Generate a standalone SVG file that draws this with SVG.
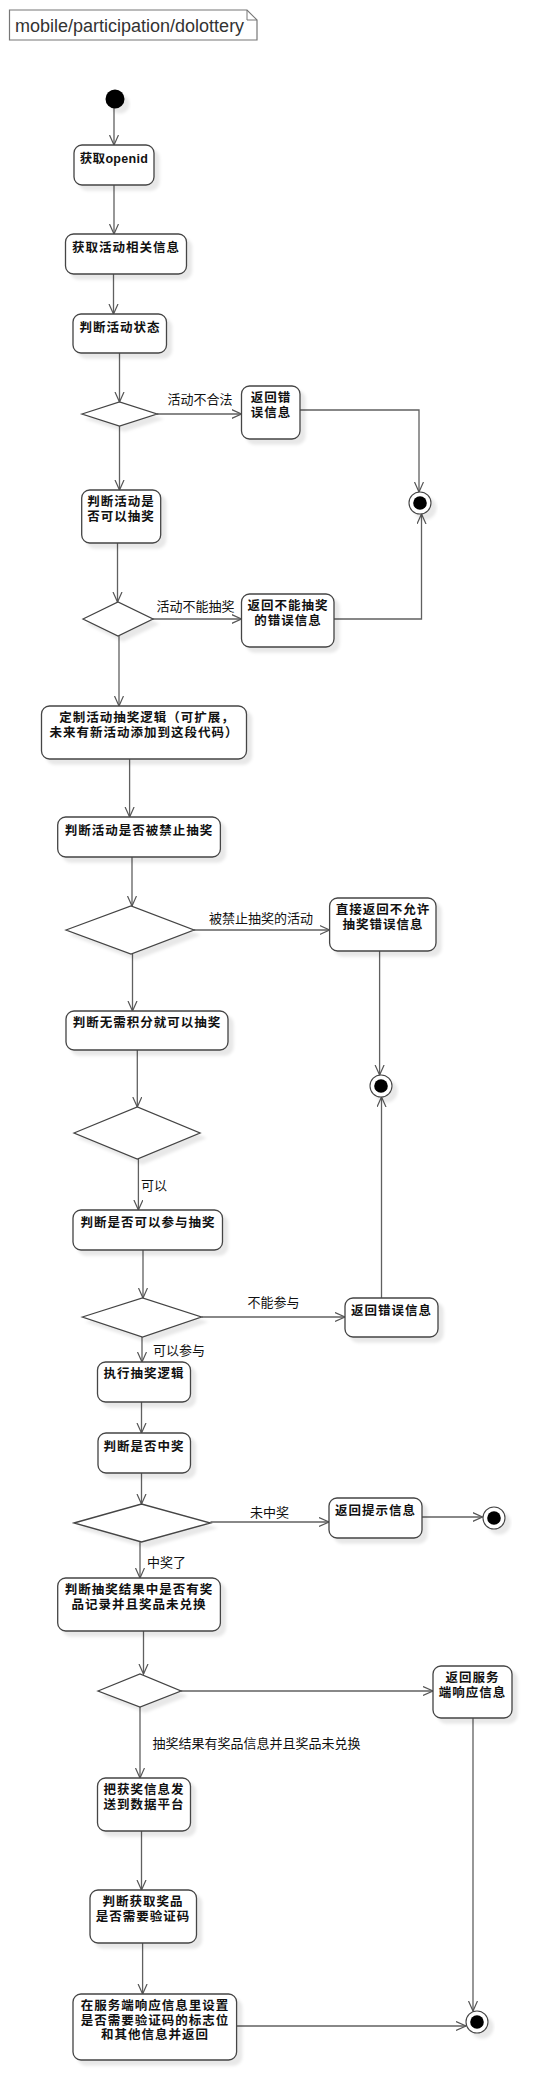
<svg xmlns="http://www.w3.org/2000/svg" width="553" height="2100" viewBox="0 0 553 2100">
<defs>
<filter id="sh" x="-20%" y="-20%" width="150%" height="160%">
<feDropShadow dx="5" dy="5" stdDeviation="1.8" flood-color="#000" flood-opacity="0.09"/>
</filter>
<marker id="ar" markerWidth="12" markerHeight="12" refX="10" refY="5" orient="auto" markerUnits="userSpaceOnUse">
<path d="M0,0.5 L10,5 L0,9.5" fill="none" stroke="#555" stroke-width="1.2"/>
</marker>
<style>
.bx{fill:#fff;stroke:#444;stroke-width:1.3;filter:url(#sh)}
.dm{fill:#fff;stroke:#444;stroke-width:1.3;filter:url(#sh)}
.t{font-family:"Liberation Sans","Noto Sans CJK SC",sans-serif;font-size:12.5px;font-weight:bold;fill:#111;text-anchor:middle;letter-spacing:1px}
.lb{font-family:"Noto Sans CJK SC","Noto Sans",sans-serif;font-size:13px;fill:#111}
.c{fill:none;stroke:#606060;stroke-width:1.3;marker-end:url(#ar)}
.st{fill:#000;filter:url(#sh)}
.eo{fill:#fff;stroke:#444;stroke-width:1.1;filter:url(#sh)}
.ei{fill:#000}
</style>
</defs>
<rect width="553" height="2100" fill="#fff"/>

<g id="note">
<path d="M9.5,10 H247 L257,20 V40 H9.5 Z" fill="#fff" stroke="#777" stroke-width="1.2"/>
<path d="M247,10 V20 H257" fill="none" stroke="#777" stroke-width="1"/>
<text x="15" y="32" font-family="Liberation Sans, Arial, sans-serif" font-size="18" fill="#333">mobile/participation/dolottery</text>
</g>

<g id="connectors">
<path class="c" d="M114,108 V145"/>
<path class="c" d="M114,185 V234"/>
<path class="c" d="M113.5,274 V314"/>
<path class="c" d="M119.5,353 V402"/>
<path class="c" d="M157,414 H241.5"/>
<path class="c" d="M300,410 H419 V492"/>
<path class="c" d="M119.5,426 V490"/>
<path class="c" d="M117.5,543 V602"/>
<path class="c" d="M153,619 H241.5"/>
<path class="c" d="M334,619 H421.5 V514"/>
<path class="c" d="M119,636 V706"/>
<path class="c" d="M129.6,759 V817"/>
<path class="c" d="M132,857 V906"/>
<path class="c" d="M194,930 H329.6"/>
<path class="c" d="M379.6,951 V1075"/>
<path class="c" d="M132.5,954 V1011"/>
<path class="c" d="M137.3,1050 V1107"/>
<path class="c" d="M138.4,1159 V1210"/>
<path class="c" d="M143,1250 V1298"/>
<path class="c" d="M201.4,1317 H345"/>
<path class="c" d="M381.5,1298 V1097"/>
<path class="c" d="M142,1337 V1362"/>
<path class="c" d="M141.5,1402 V1433"/>
<path class="c" d="M141.5,1473 V1504"/>
<path class="c" d="M210.5,1522 H329"/>
<path class="c" d="M422,1517 H482.5"/>
<path class="c" d="M140,1542 V1578"/>
<path class="c" d="M143.5,1631 V1674"/>
<path class="c" d="M181,1691 H433"/>
<path class="c" d="M473,1718 V2011"/>
<path class="c" d="M140,1707 V1778"/>
<path class="c" d="M141.5,1831 V1890"/>
<path class="c" d="M142.6,1943 V1994"/>
<path class="c" d="M236.6,2026 H466"/>
<text class="lb" x="200" y="404" text-anchor="middle">活动不合法</text>
<text class="lb" x="195.5" y="611" text-anchor="middle">活动不能抽奖</text>
<text class="lb" x="261" y="923" text-anchor="middle">被禁止抽奖的活动</text>
<text class="lb" x="141" y="1190">可以</text>
<text class="lb" x="273.5" y="1307" text-anchor="middle">不能参与</text>
<text class="lb" x="153" y="1355">可以参与</text>
<text class="lb" x="269.5" y="1517" text-anchor="middle">未中奖</text>
<text class="lb" x="147" y="1567">中奖了</text>
<text class="lb" x="152.5" y="1748">抽奖结果有奖品信息并且奖品未兑换</text>
</g>

<g id="start"><circle class="st" cx="115" cy="99" r="9.5"/></g>

<g id="n_openid"><rect class="bx" x="74" y="145" width="80" height="40" rx="8"/><text class="t" x="114" y="163" style="letter-spacing:0.3px">获取openid</text></g>
<g id="n_info"><rect class="bx" x="65.5" y="234" width="121" height="40" rx="8"/><text class="t" x="126" y="252">获取活动相关信息</text></g>
<g id="n_state"><rect class="bx" x="73" y="314" width="93.5" height="39" rx="8"/><text class="t" x="120" y="332">判断活动状态</text></g>
<g id="d1"><polygon class="dm" points="82,414 119.5,402 157,414 119.5,426"/></g>
<g id="n_err1"><rect class="bx" x="241.5" y="386" width="58.5" height="53" rx="8"/><text class="t" x="271" y="402">返回错<tspan x="271" dy="14.5">误信息</tspan></text></g>
<g id="end1"><circle class="eo" cx="420" cy="503" r="11"/><circle class="ei" cx="420" cy="503" r="6.8"/></g>
<g id="n_can"><rect class="bx" x="81.7" y="490" width="79" height="53" rx="8"/><text class="t" x="121" y="506">判断活动是<tspan x="121" dy="14.5">否可以抽奖</tspan></text></g>
<g id="d2"><polygon class="dm" points="83,619 118,602 153,619 118,636"/></g>
<g id="n_err2"><rect class="bx" x="241.5" y="594" width="92.5" height="53" rx="8"/><text class="t" x="288" y="610">返回不能抽奖<tspan x="288" dy="14.5">的错误信息</tspan></text></g>
<g id="n_custom"><rect class="bx" x="41.5" y="706" width="205" height="53" rx="8"/><text class="t" x="147" y="722">定制活动抽奖逻辑（可扩展，<tspan x="144" dy="14.5">未来有新活动添加到这段代码）</tspan></text></g>
<g id="n_forbid"><rect class="bx" x="57.7" y="817" width="162.7" height="40" rx="8"/><text class="t" x="139" y="835">判断活动是否被禁止抽奖</text></g>
<g id="d3"><polygon class="dm" points="66,930 131,906 194,930 131,954"/></g>
<g id="n_direct"><rect class="bx" x="329.6" y="898" width="106.4" height="53" rx="8"/><text class="t" x="383" y="914">直接返回不允许<tspan x="383" dy="14.5">抽奖错误信息</tspan></text></g>
<g id="end2"><circle class="eo" cx="381" cy="1086" r="11"/><circle class="ei" cx="381" cy="1086" r="6.8"/></g>
<g id="n_nopoint"><rect class="bx" x="66" y="1011" width="162" height="39" rx="8"/><text class="t" x="147" y="1027">判断无需积分就可以抽奖</text></g>
<g id="d4"><polygon class="dm" points="74,1133 137.3,1107 200,1133 137.3,1159"/></g>
<g id="n_join"><rect class="bx" x="73" y="1210" width="149.5" height="40" rx="8"/><text class="t" x="148" y="1227">判断是否可以参与抽奖</text></g>
<g id="d5"><polygon class="dm" points="82.4,1317 142.5,1298 201.4,1317 142.5,1337"/></g>
<g id="n_err3"><rect class="bx" x="345" y="1298" width="93" height="39" rx="8"/><text class="t" x="391.5" y="1315">返回错误信息</text></g>
<g id="n_exec"><rect class="bx" x="97.5" y="1362" width="93" height="40" rx="8"/><text class="t" x="144" y="1378">执行抽奖逻辑</text></g>
<g id="n_win"><rect class="bx" x="98" y="1433" width="92.5" height="40" rx="8"/><text class="t" x="144" y="1451">判断是否中奖</text></g>
<g id="d6"><polygon class="dm" points="74,1523 141.5,1504 210.5,1523 141.5,1542"/></g>
<g id="n_tip"><rect class="bx" x="329" y="1498" width="93" height="40" rx="8"/><text class="t" x="375.5" y="1515">返回提示信息</text></g>
<g id="end3"><circle class="eo" cx="494" cy="1518" r="11"/><circle class="ei" cx="494" cy="1518" r="6.8"/></g>
<g id="n_prize"><rect class="bx" x="57.7" y="1578" width="162.7" height="53" rx="8"/><text class="t" x="139" y="1594">判断抽奖结果中是否有奖<tspan x="139" dy="14.5">品记录并且奖品未兑换</tspan></text></g>
<g id="d7"><polygon class="dm" points="98,1691 140,1674 181,1691 140,1707"/></g>
<g id="n_resp"><rect class="bx" x="433" y="1666" width="79" height="52" rx="8"/><text class="t" x="472.5" y="1682">返回服务<tspan x="472.5" dy="14.5">端响应信息</tspan></text></g>
<g id="n_send"><rect class="bx" x="97.5" y="1778" width="93" height="53" rx="8"/><text class="t" x="144" y="1794">把获奖信息发<tspan x="144" dy="14.5">送到数据平台</tspan></text></g>
<g id="n_code"><rect class="bx" x="90" y="1890" width="106.5" height="53" rx="8"/><text class="t" x="143" y="1906">判断获取奖品<tspan x="143" dy="14.5">是否需要验证码</tspan></text></g>
<g id="n_set"><rect class="bx" x="73" y="1994" width="163.6" height="66" rx="8"/><text class="t" x="155" y="2010">在服务端响应信息里设置<tspan x="155" dy="14.5">是否需要验证码的标志位</tspan><tspan x="155" dy="14.5">和其他信息并返回</tspan></text></g>
<g id="end4"><circle class="eo" cx="477" cy="2022" r="11"/><circle class="ei" cx="477" cy="2022" r="6.8"/></g>
</svg>
